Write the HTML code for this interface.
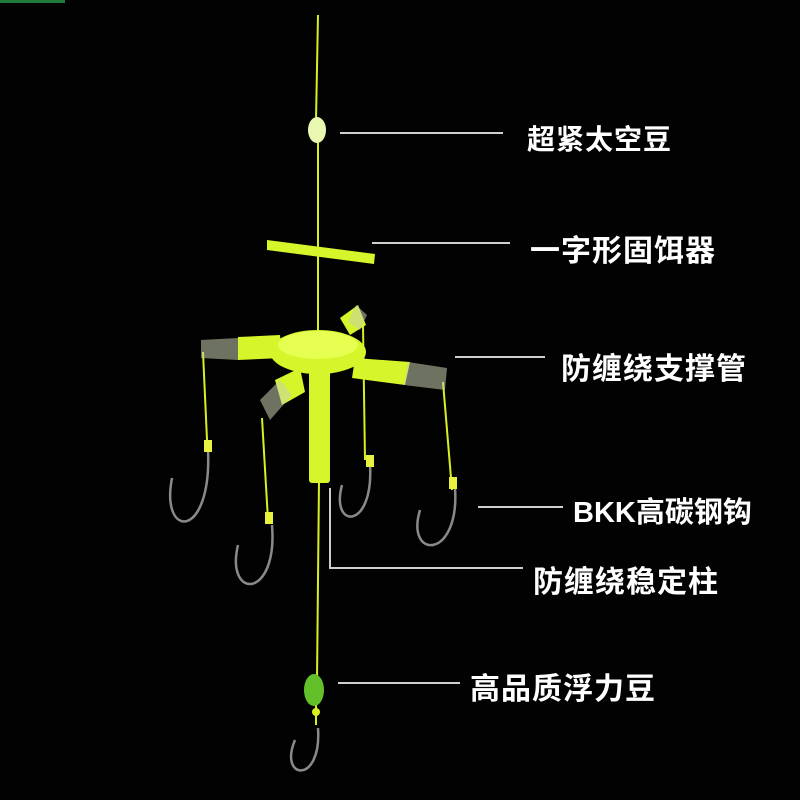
<!DOCTYPE html>
<html><head><meta charset="utf-8"><style>
body{margin:0;background:#000;}
.w{position:relative;width:800px;height:800px;background:#020202;overflow:hidden;font-family:"Liberation Sans","Noto Sans CJK SC",sans-serif;}
.t{position:absolute;color:#fff;font-weight:bold;font-size:30px;letter-spacing:1px;white-space:nowrap;line-height:32px;}
</style></head><body><div class="w">
<svg width="800" height="800" style="position:absolute;left:0;top:0">
<rect x="0" y="0" width="65" height="3" fill="#1f7a3a"/>
<g stroke="#cfcfcf" stroke-width="2" fill="none">
<line x1="340" y1="133" x2="503" y2="133"/>
<line x1="372" y1="243" x2="510" y2="243"/>
<line x1="455" y1="357" x2="545" y2="357"/>
<line x1="478" y1="507" x2="563" y2="507"/>
<polyline points="330,488 330,568 523,568"/>
<line x1="338" y1="683" x2="460" y2="683"/>
</g>
<g stroke="#d8f020" stroke-width="2" fill="none">
<path d="M318,15 L316,120 M318,140 L318,335 M319,480 L317,680"/>
<path d="M203,352 L207,440 M262,418 L268,520 M363,325 L365,460 M443,382 L452,490 M316,700 L316,725"/>
</g>
<ellipse cx="317" cy="130" rx="9" ry="13" fill="#e8f8b0"/>
<polygon points="267,240 375,254 374,264 267,250" fill="#d6f52a"/>
<g fill="#d6f52a">
<rect x="309" y="365" width="21" height="118" rx="3"/>
<polygon points="238,337 280,335 282,358 238,360" />
<polygon points="355,358 410,362 405,385 352,378"/>
<polygon points="340,318 358,305 366,325 350,335"/>
<polygon points="275,380 300,368 305,392 282,405"/>
<ellipse cx="318" cy="352" rx="48" ry="22"/>
<ellipse cx="318" cy="345" rx="40" ry="14" fill="#e6ff50"/>
</g>
<g fill="#c8d0b0" opacity="0.55">
<polygon points="201,340 238,338 238,360 201,358"/>
<polygon points="408,362 447,368 445,390 404,385"/>
<polygon points="356,305 367,315 360,330 348,322"/>
<polygon points="260,400 280,380 292,395 270,420"/>
</g>
<g stroke="#8a8a8a" stroke-width="2.5" fill="none">
<path d="M208,450 C212,540 160,540 172,478"/>
<path d="M272,525 C278,600 225,600 238,545"/>
<path d="M370,465 C374,530 330,530 342,485"/>
<path d="M455,488 C460,560 405,560 420,510"/>
<path d="M318,728 C322,785 278,780 295,740"/>
</g>
<g fill="#e8f040"><rect x="204" y="440" width="8" height="12"/><rect x="265" y="512" width="8" height="12"/><rect x="366" y="455" width="8" height="12"/><rect x="449" y="477" width="8" height="12"/></g>
<ellipse cx="314" cy="690" rx="10" ry="16" fill="#64c02a"/>
<circle cx="316" cy="712" r="4" fill="#d8f020"/>
</svg>
<div class="t" style="left:527px;top:124px;font-size:28px">超紧太空豆</div>
<div class="t" style="left:530px;top:236px">一字形固饵器</div>
<div class="t" style="left:561px;top:354px">防缠绕支撑管</div>
<div class="t" style="left:573px;top:497px;font-size:29px;letter-spacing:0">BKK高碳钢钩</div>
<div class="t" style="left:533px;top:567px">防缠绕稳定柱</div>
<div class="t" style="left:470px;top:674px">高品质浮力豆</div>
</div></body></html>
